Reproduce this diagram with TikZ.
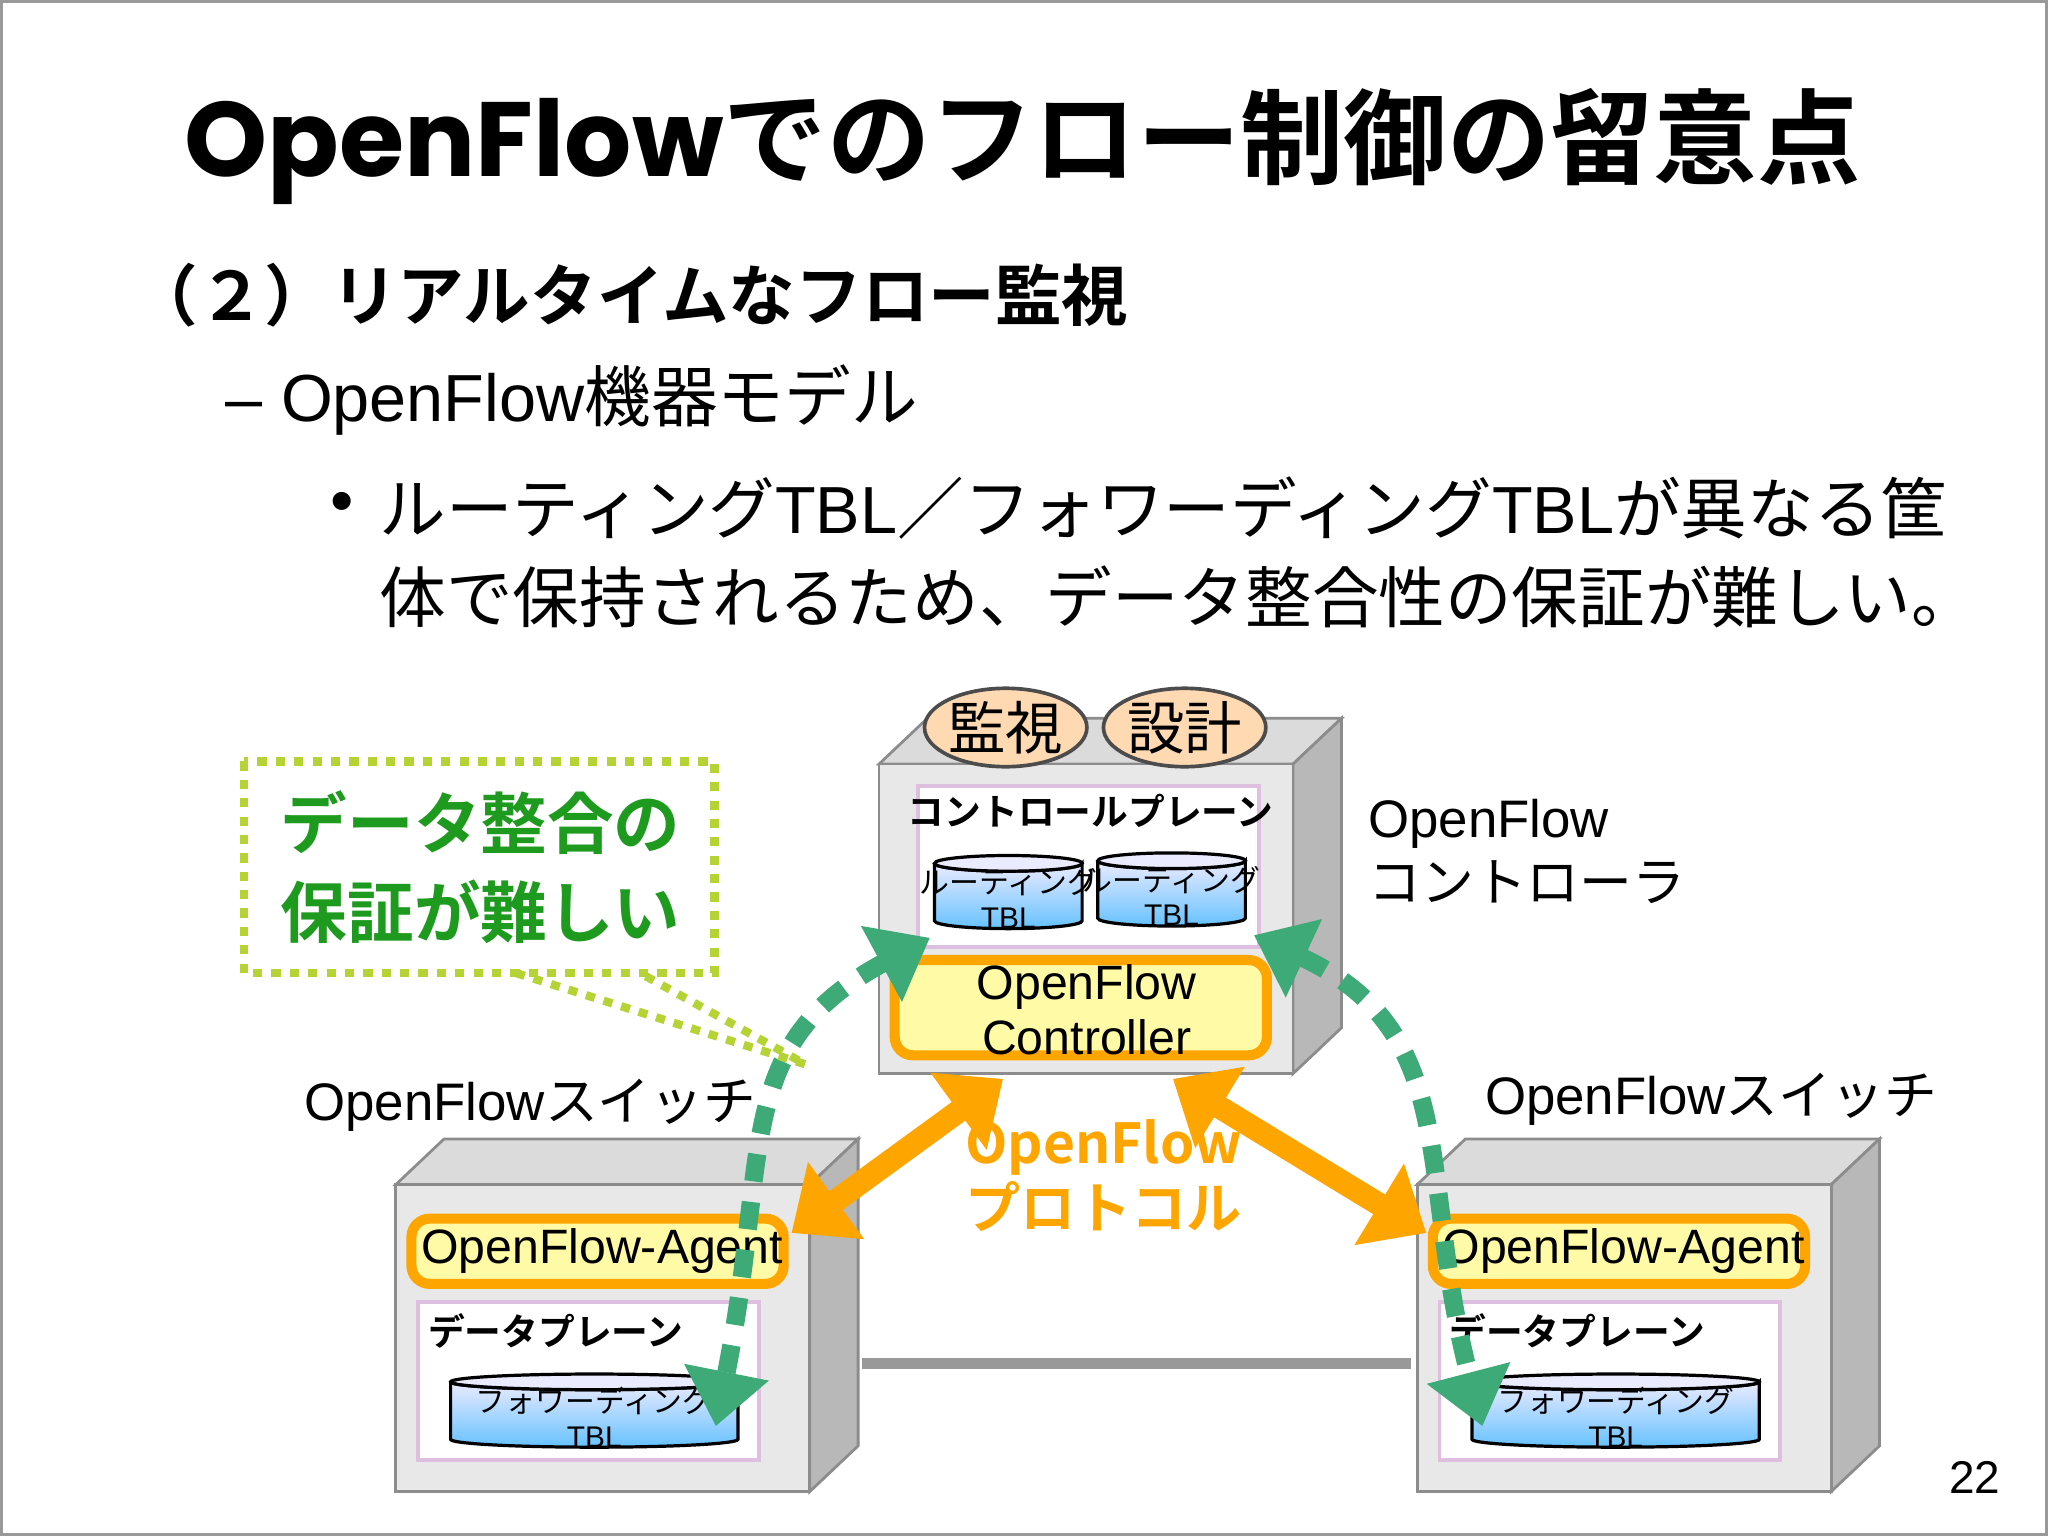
\documentclass[tikz,border=0pt]{standalone}
\usepackage{fontspec}
\setmainfont{Liberation Sans}
\newfontfamily\jp{Noto Sans CJK JP}
\newfontfamily\jpb{Noto Sans CJK JP Bold}
\newfontfamily\pop{Poppins}[UprightFont=* Bold]
\newcommand{\lt}[1]{{\rmfamily #1}}
\usetikzlibrary{arrows.meta,shapes.geometric,calc}
\definecolor{orng}{HTML}{FFA500}
\definecolor{grn}{HTML}{3DAA77}
\definecolor{cgrn}{HTML}{1E9A1E}
\definecolor{lime}{HTML}{B5D334}
\tikzset{
 txt/.style={inner sep=0pt,font=\jp},
 front/.style={fill=black!9,draw=black!45,line width=0.6pt},
 topf/.style={fill=black!14,draw=black!45,line width=0.6pt},
 sidef/.style={fill=black!28,draw=black!45,line width=0.6pt},
 panel/.style={fill=white,draw=violet!25,line width=0.8pt},
 agent/.style={fill=yellow!35,draw=orng,line width=2.2pt,rounded corners=4pt},
 oval/.style={ellipse,fill=orange!30,draw=black!70,line width=0.8pt,minimum width=1.2cm,minimum height=0.6cm,font=\jp\fontsize{12.5}{13}\selectfont,inner sep=0pt},
 oarrow/.style={orng,line width=5pt,{Triangle[length=12pt,width=20pt]}-{Triangle[length=12pt,width=20pt]}},
 garrow/.style={grn,line width=4pt,dash pattern=on 6pt off 4.5pt,{Triangle[length=12pt,width=18pt]}-{Triangle[length=12pt,width=18pt]}},
}
\newcommand{\cyl}[5]{% x y w name text
 \begin{scope}[shift={(#1,#2)}]
  \shade[top color=blue!8,bottom color=blue!40!cyan!60,draw=black,line width=0.7pt]
   (-#3/2,-22) -- (-#3/2,22) arc[start angle=180,end angle=0,x radius=#3/2,y radius=6] -- (#3/2,-22) arc[start angle=0,end angle=180,x radius=#3/2,y radius=6];
  \fill[blue!8,draw=black,line width=0.7pt] (0,-22) ellipse[x radius=#3/2,y radius=6];
  \node[txt,align=center,font=\jp\fontsize{6.5}{7.5}\selectfont] (#4) at (0,5) {#5};
 \end{scope}}
\begin{document}
\begin{tikzpicture}[x=0.01cm,y=-0.01cm]
\useasboundingbox (0,0) rectangle (1568,1176);
\draw[black!40,line width=0.8pt] (1,1) rectangle (1567,1175);
\node[txt] (title) at (783,112) {{\pop\fontsize{23}{23}\selectfont OpenFlow}{\jpb\fontsize{22.5}{23}\selectfont でのフロー制御の留意点}};
\node[txt,anchor=west,font=\jpb\fontsize{14.5}{15}\selectfont] (sub) at (100,226) {（２）リアルタイムなフロー監視};
\node[txt,anchor=west,font=\jp\fontsize{14.5}{15}\selectfont] (l1) at (172,306) {\lt{– OpenFlow}機器モデル};
\node[txt,anchor=west,font=\jp\fontsize{14.5}{15}\selectfont] (bul) at (252,389) {\lt{•}};
\node[txt,anchor=west,font=\jp\fontsize{14.5}{15}\selectfont] (l2) at (290,389) {ルーティング\lt{TBL}／フォワーディング\lt{TBL}が異なる筐};
\node[txt,anchor=west,font=\jp\fontsize{14.5}{15}\selectfont] (l3) at (290,457) {体で保持されるため、データ整合性の保証が難しい。};
% controller box
\draw[topf] (673,585) -- (710,550) -- (1027,550) -- (990,585) -- cycle;
\draw[sidef] (990,585) -- (1027,550) -- (1027,787) -- (990,822) -- cycle;
\draw[front] (673,585) rectangle (990,822);
\node[oval] (kanshi) at (770,557) {監視};
\node[oval] (sekkei) at (907,557) {設計};
\draw[panel] (703,602) rectangle (964,725);
\node[txt,font=\jpb\fontsize{8}{9}\selectfont] (cp) at (835,621) {コントロールプレーン};
\cyl{772}{683}{113}{rt1}{ルーティング\\\lt{TBL}}
\cyl{897}{681}{113}{rt2}{ルーティング\\\lt{TBL}}
\draw[agent] (685,735) rectangle (970,808);
\node[txt,align=center,font=\rmfamily\fontsize{10.5}{12}\selectfont] (ctrl) at (832,773) {OpenFlow\\Controller};
\node[txt,anchor=west,align=left,font=\jp\fontsize{11.5}{14}\selectfont] (clab) at (1047,652) {\lt{OpenFlow}\\コントローラ};
% switches
\foreach \x/\n in {303/L,1085/R}{
 \draw[topf] (\x,907) -- (\x+37,872) -- (\x+354,872) -- (\x+317,907) -- cycle;
 \draw[sidef] (\x+317,907) -- (\x+354,872) -- (\x+354,1107) -- (\x+317,1142) -- cycle;
 \draw[front] (\x,907) rectangle (\x+317,1142);
 \draw[agent] (\x+12,933) rectangle (\x+297,983);
 \node[txt,font=\rmfamily\fontsize{10.5}{12}\selectfont] (ag\n) at (\x+158,958) {OpenFlow-Agent};
 \draw[panel] (\x+17,997) rectangle (\x+278,1118);
 \node[txt,anchor=west,font=\jpb\fontsize{8}{9}\selectfont] (dp\n) at (\x+24,1019) {データプレーン};
}
\cyl{455}{1080}{220}{fw1}{フォワーディング\\\lt{TBL}}
\cyl{1237}{1080}{220}{fw2}{フォワーディング\\\lt{TBL}}
\node[txt,font=\jp\fontsize{11.5}{12}\selectfont] (swL) at (406,846) {\lt{OpenFlow}スイッチ};
\node[txt,font=\jp\fontsize{11.5}{12}\selectfont] (swR) at (1310,842) {\lt{OpenFlow}スイッチ};
\coordinate (gl1) at (660,1044); \coordinate (gl2) at (1080,1044);
\draw[black!40,line width=2.5pt] (gl1) -- (gl2);
% orange arrows
\coordinate (oa1) at (768,826); \coordinate (oa2) at (606,944);
\coordinate (ob1) at (898,826); \coordinate (ob2) at (1092,944);
\draw[oarrow] (oa1) -- (oa2);
\draw[oarrow] (ob1) -- (ob2);
\node[txt,align=center,text=orng,font=\jpb\fontsize{12}{14}\selectfont] (proto) at (845,900) {OpenFlow\\プロトコル};
% green arrows
\coordinate (ga1) at (712,718); \coordinate (ga2) at (548,1092);
\coordinate (gb1) at (960,716); \coordinate (gb2) at (1135,1092);
\draw[garrow] (ga1) .. controls (560,800) and (590,880) .. (ga2);
\draw[garrow] (gb1) .. controls (1120,790) and (1085,900) .. (gb2);
% callout
\draw[lime,line width=1.8pt,dash pattern=on 2pt off 2pt,fill=white] (187,583) rectangle (547,745);
\coordinate (tip) at (617,815);
\draw[lime,line width=1.8pt,dash pattern=on 2pt off 2pt] (395,745) -- (tip) -- (490,745);
\node[txt,align=left,text=cgrn,font=\jpb\fontsize{14.5}{19.5}\selectfont] (call) at (368,664) {データ整合の\\保証が難しい};
\node[txt,font=\fontsize{10}{10}\selectfont] (pg) at (1512,1131) {22};
\end{tikzpicture}
\end{document}
